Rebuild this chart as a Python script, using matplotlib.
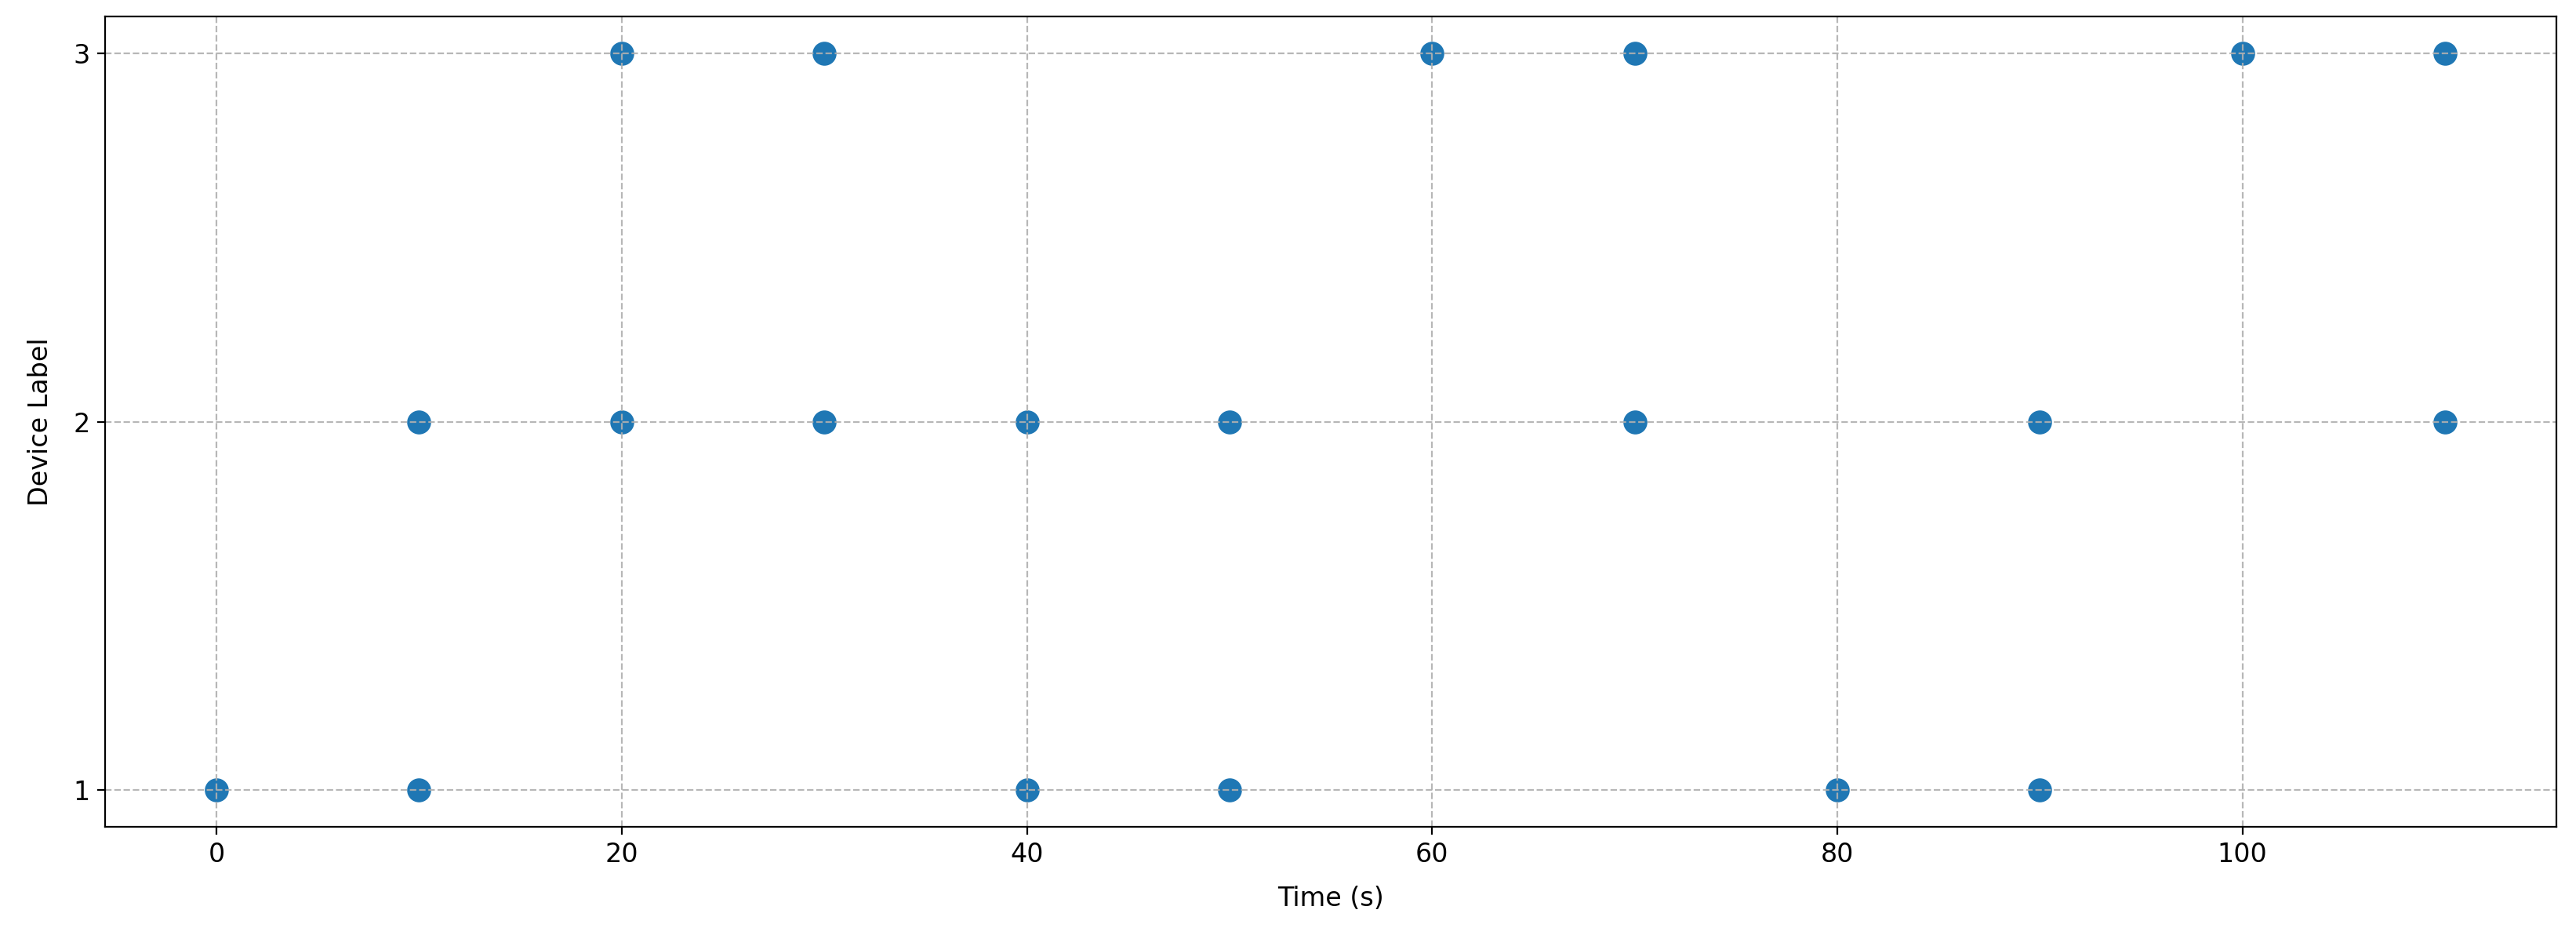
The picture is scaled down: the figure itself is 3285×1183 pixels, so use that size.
import matplotlib
matplotlib.use('Agg')
import matplotlib.pyplot as plt

# times (s) at which each device was seen
device_labels = [1, 2, 3]
times_dev1 = [0, 10, 40, 50, 80, 90]
times_dev2 = [10, 20, 30, 40, 50, 70, 90, 110]
times_dev3 = [20, 30, 60, 70, 100, 110]

times = times_dev1 + times_dev2 + times_dev3
labels = ([1] * len(times_dev1) + [2] * len(times_dev2) + [3] * len(times_dev3))

plt.rcParams['font.size'] = 12

fig, ax = plt.subplots(figsize=(16.425, 5.915), dpi=200)
fig.subplots_adjust(left=0.0408, right=0.9924, bottom=0.109, top=0.982)

ax.scatter(times, labels, s=100, color='#1f77b4')
ax.set_xlabel("Time (s)", labelpad=8)
ax.set_ylabel("Device Label", labelpad=9)
ax.set_yticks(device_labels)
ax.grid(True, linestyle='--', alpha=0.9)

fig.savefig("out.png", dpi=200)
